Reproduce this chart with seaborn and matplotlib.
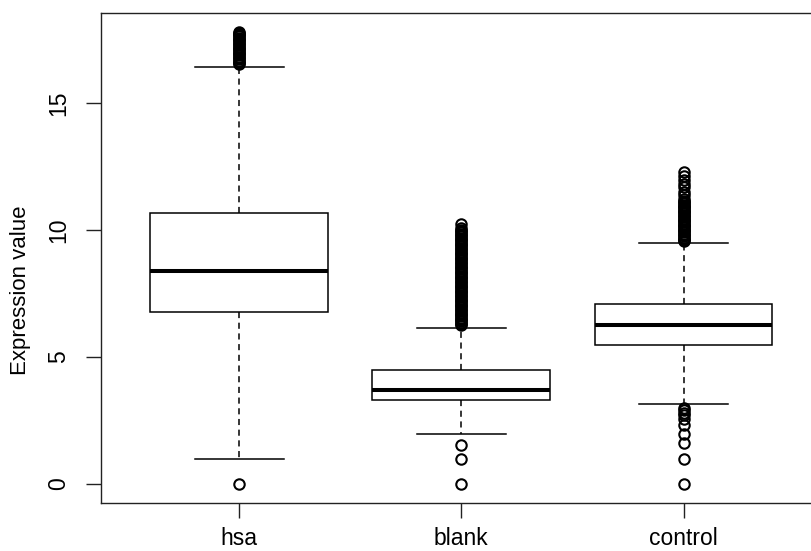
import numpy as np
import pandas as pd
import matplotlib
matplotlib.use("Agg")
import matplotlib.pyplot as plt
import seaborn as sns

plt.rcParams["font.family"] = ["Liberation Sans", "DejaVu Sans"]

# ---- summary values (R-style boxplot) ----
groups = ["hsa", "blank", "control"]
q1 = [6.77, 3.31, 5.47]
medians = [8.37, 3.70, 6.26]
q3 = [10.66, 4.47, 7.09]
whisker_low = [0.98, 1.97, 3.15]
whisker_high = [16.43, 6.15, 9.48]

# outliers (dense bands are read at the picture's resolution)
hsa_low_out = [0.0]
hsa_high_out = [16.52, 16.57, 16.62, 16.67, 16.72, 16.77, 16.82, 16.87, 16.92, 16.97,
                17.02, 17.07, 17.12, 17.17, 17.22, 17.27, 17.32, 17.37, 17.42, 17.47,
                17.52, 17.57, 17.62, 17.67, 17.72, 17.77, 17.80]
blank_low_out = [1.55, 0.97, 0.0]
blank_high_out = [6.25, 6.30, 6.35, 6.40, 6.45, 6.50, 6.55, 6.60, 6.65, 6.70,
                  6.75, 6.80, 6.85, 6.90, 6.95, 7.00, 7.05, 7.10, 7.15, 7.20,
                  7.25, 7.30, 7.35, 7.40, 7.45, 7.50, 7.55, 7.60, 7.65, 7.70,
                  7.75, 7.80, 7.85, 7.90, 7.95, 8.00, 8.05, 8.10, 8.15, 8.20,
                  8.25, 8.30, 8.35, 8.40, 8.45, 8.50, 8.55, 8.60, 8.65, 8.70,
                  8.75, 8.80, 8.85, 8.90, 8.95, 9.00, 9.05, 9.10, 9.15, 9.20,
                  9.25, 9.30, 9.35, 9.40, 9.45, 9.50, 9.55, 9.60, 9.65, 9.70,
                  9.75, 9.80, 9.85, 9.90, 9.95, 10.00, 10.08, 10.22]
control_low_out = [3.00, 2.90, 2.80, 2.70, 2.55, 2.32, 1.97, 1.63, 0.97, 0.0]
control_high_out = [9.55, 9.60, 9.65, 9.70, 9.75, 9.80, 9.85, 9.90, 9.95, 10.00,
                    10.05, 10.10, 10.15, 10.20, 10.25, 10.30, 10.35, 10.40, 10.45, 10.50,
                    10.55, 10.60, 10.65, 10.70, 10.75, 10.80, 10.85, 10.90, 10.95, 11.00,
                    11.05, 11.10, 11.15, 11.21, 11.38, 11.51, 11.68, 11.81, 11.97, 12.13,
                    12.30]

low_outs = [hsa_low_out, blank_low_out, control_low_out]
high_outs = [hsa_high_out, blank_high_out, control_high_out]

# Build a sample per group whose quartiles / whiskers / outliers equal the
# values read above (each quartile value repeated so percentiles land on it).
K = 200
rows = []
for i, g in enumerate(groups):
    vals = (low_outs[i] + [whisker_low[i]] + [q1[i]] * K + [medians[i]] * K
            + [q3[i]] * K + [whisker_high[i]] + high_outs[i])
    rows += [(g, v) for v in vals]
df = pd.DataFrame(rows, columns=["group", "value"])

W, H = 811, 551
fig = plt.figure(figsize=(W / 100, H / 100), dpi=100)
ax = fig.add_axes([100.7 / W, 48 / H, 721.3 / W, 490 / H])

sns.boxplot(
    data=df, x="group", y="value", order=groups, width=0.8,
    color="white", linecolor="black", linewidth=1.1, whis=1.5,
    fliersize=7.5,
    flierprops=dict(marker="o", markerfacecolor="none",
                    markeredgecolor="black", markeredgewidth=1.5),
    whiskerprops=dict(linestyle=(0, (4, 3))),
    medianprops=dict(linewidth=2.9),
    ax=ax,
)

ax.set_xlim(-0.623, 2.623)
ax.set_ylim(-0.748, 18.54)
ax.set_yticks([0, 5, 10, 15])
ax.set_xlabel("")
ax.set_ylabel("")

for s in ax.spines.values():
    s.set_visible(True)
    s.set_linewidth(1.0)
    s.set_color("#222222")

ax.tick_params(axis="both", length=11, width=1.0, color="#222222",
               labelsize=16.5, labelcolor="black", direction="out")
ax.tick_params(axis="y", pad=11, labelrotation=90)
ax.tick_params(axis="x", pad=6)
for lab in ax.get_yticklabels():
    lab.set_verticalalignment("center")
    lab.set_horizontalalignment("right")

fig.text(21 / W, 1 - 290 / H, "Expression value", rotation=90,
         ha="center", va="center", fontsize=16, color="black")

fig.savefig("out.png", dpi=100)
